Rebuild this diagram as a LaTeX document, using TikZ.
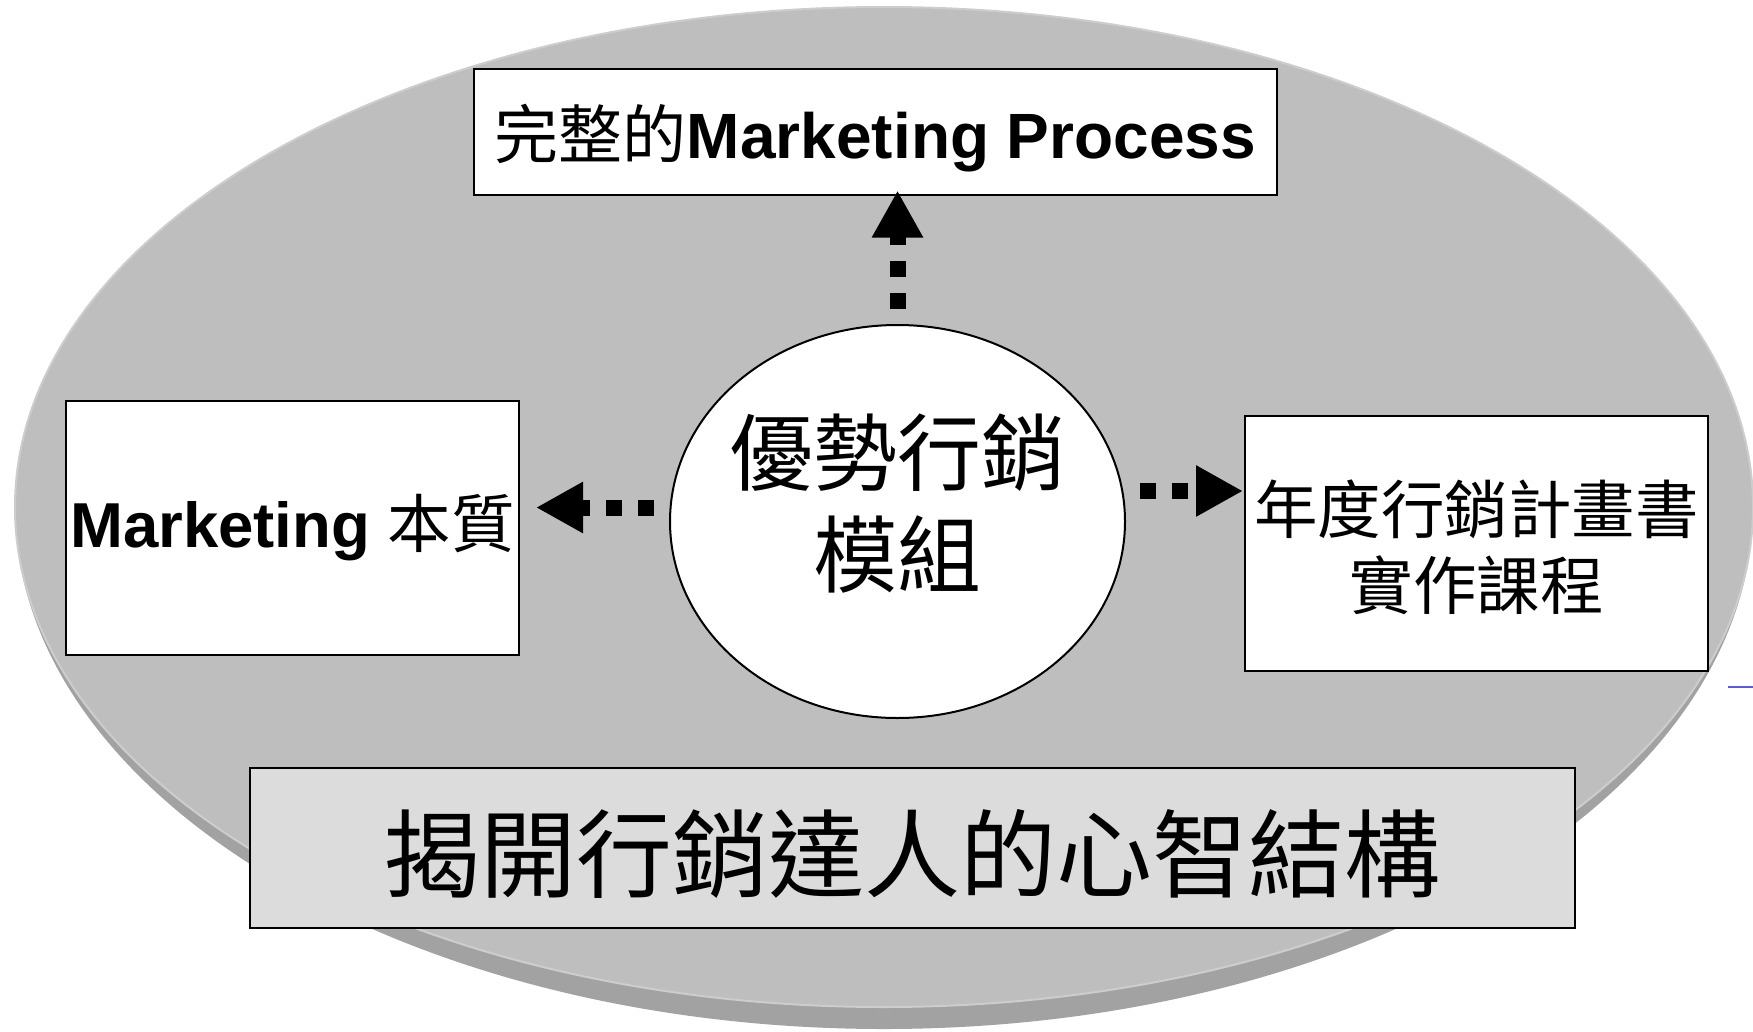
\documentclass[tikz,border=0pt]{standalone}
\usepackage{fontspec}
\setmainfont{Liberation Sans}
\newfontfamily\cjk{Noto Sans CJK TC}
\usetikzlibrary{arrows.meta,shapes.geometric,calc}
\definecolor{discTop}{HTML}{BEBEBE}
\definecolor{discSide}{HTML}{A2A2A2}
\definecolor{discRim}{HTML}{CDCDCD}
\definecolor{titleFill}{HTML}{DCDCDC}
\definecolor{stray}{HTML}{5A5AF0}
\newcommand{\lowerby}[2]{\raisebox{-#1}[\height][\depth]{#2}}
\begin{document}
\begin{tikzpicture}[x=1pt,y=-1pt,
  box/.style={draw=black, line width=2pt, fill=white, inner sep=0pt, align=center},
  arr/.style={line width=16pt, dash pattern=on 16pt off 16pt, -{Triangle[length=47pt,width=48pt]}}]
\useasboundingbox (0,0) rectangle (1753,1031);
% disc: side band (lower half only) and top face
\begin{scope}
  \clip (0,507) rectangle (1753,1031);
  \fill[discSide] (884,507) ellipse [x radius=869, y radius=522];
\end{scope}
\filldraw[fill=discTop, draw=discRim, line width=2pt] (884,507) ellipse [x radius=869, y radius=500];
% boxes
\node[box, minimum width=803, minimum height=126] (top) at (875.5,131.5)
  {\fontsize{64}{70}\selectfont\lowerby{7pt}{{\cjk 完整的}\textbf{Marketing Process}}};
\node[box, minimum width=453, minimum height=254] (lbox) at (292.5,528)
  {\fontsize{63.5}{70}\selectfont\textbf{Marketing} {\cjk 本質}};
\node[box, minimum width=463, minimum height=255, font={\fontsize{63.5}{74}\selectfont\cjk}] (rbox) at (1476.5,543.5)
  {\lowerby{12pt}{\begin{tabular}{@{}c@{}}年度行銷計畫書\\實作課程\end{tabular}}};
\node[box, fill=titleFill, line width=2.5pt, minimum width=1325, minimum height=160, font={\fontsize{96}{100}\selectfont\cjk}] (title) at (912.5,848)
  {\lowerby{6pt}{揭開行銷達人的心智結構}};
% central ellipse
\node[ellipse, draw=black, line width=2pt, fill=white, minimum width=455, minimum height=393, inner sep=0pt] (circ) at (897.5,521.5) {};
\node[font={\fontsize{84}{102}\selectfont\cjk}, align=center, inner sep=0pt] (circtext) at (897.5,504) {優勢行銷\\模組};
% arrows
\coordinate (us) at ([yshift=15pt]circ.north);
\coordinate (ue) at ($(us |- top.south)+(0,5pt)$);
\draw[arr] (us) -- (ue);
\coordinate (ls) at ([shift={(-15pt,14pt)}]circ.west);
\coordinate (le) at ($(lbox.east |- ls)+(16pt,0)$);
\draw[arr] (ls) -- (le);
\coordinate (rs) at ([shift={(14pt,30.5pt)}]circ.east);
\coordinate (re) at ($(rbox.west |- rs)+(-1pt,0)$);
\draw[arr] (rs) -- (re);
% stray mark
\coordinate (bs) at (1728,687);
\coordinate (be) at (1753,687);
\draw[stray, line width=1.5pt] (bs) -- (be);
\end{tikzpicture}
\end{document}
